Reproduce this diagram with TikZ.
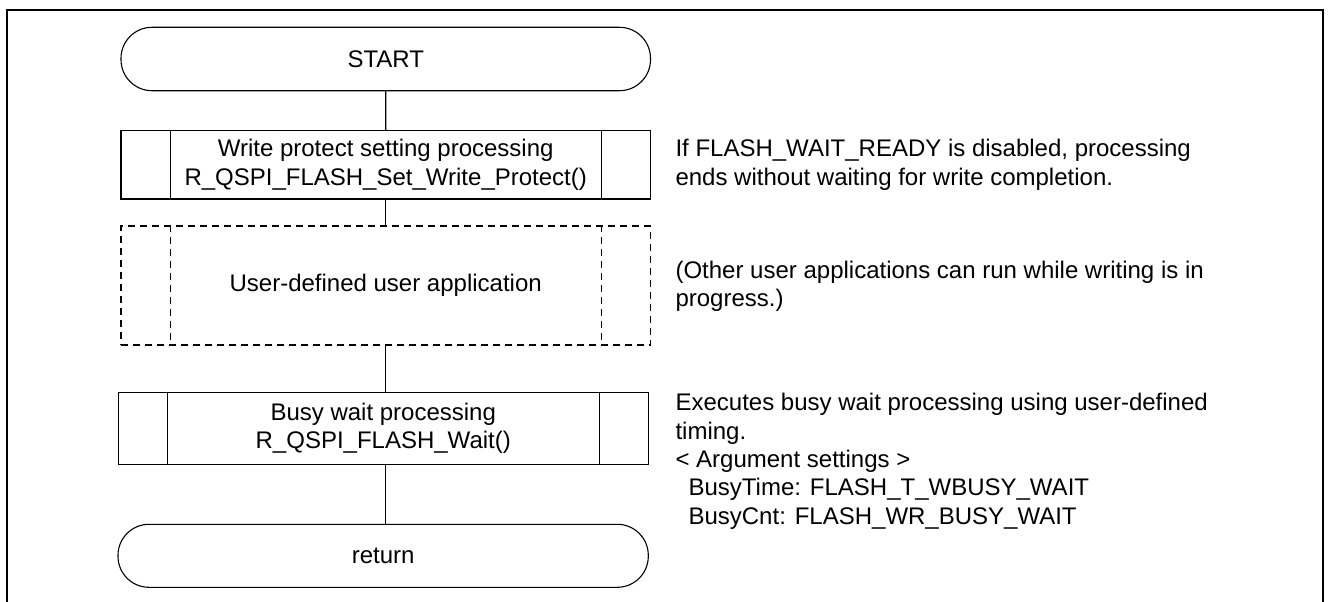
\documentclass[tikz,border=0pt]{standalone}
\usepackage{fontspec}
\setmainfont{Liberation Sans}
\begin{document}
\begin{tikzpicture}[x=1pt,y=-1pt,line width=1.1pt,
  every node/.style={font=\fontsize{24}{28.4}\selectfont, inner sep=0pt},
  term/.style={draw, rounded corners=31pt, minimum width=529.5pt, minimum height=63.4pt, align=center},
  proc/.style={draw, minimum width=529.5pt, minimum height=68.3pt, align=center},
  userbox/.style={draw, dash pattern=on 7pt off 5pt, minimum width=529.5pt, minimum height=119pt, align=center},
  note/.style={align=left, anchor=base west},
  frame/.style={line width=2pt}]
\useasboundingbox (0,0) rectangle (1328,602);
% outer frame (open at the bottom)
\draw[frame] (6.7,602) -- (6.7,10) -- (1322.7,10) -- (1322.7,602);

\node[term] (start) at (385.75,59) {START};
\node[proc] (wp) at (385.7,164.85) {Write protect setting processing\\R\_QSPI\_FLASH\_Set\_Write\_Protect()};
\draw ([xshift=49.7pt]wp.north west) -- ([xshift=49.7pt]wp.south west);
\draw ([xshift=-49.7pt]wp.north east) -- ([xshift=-49.7pt]wp.south east);

\node[userbox] (ua) at (385.7,285.5) {User-defined user application};
\draw[dash pattern=on 7pt off 5pt] ([xshift=49.7pt]ua.north west) -- ([xshift=49.7pt]ua.south west);
\draw[dash pattern=on 7pt off 5pt] ([xshift=-49.7pt]ua.north east) -- ([xshift=-49.7pt]ua.south east);

\node[proc, minimum height=71.6pt, minimum width=529.9pt] (busy) at (383.25,428.5) {Busy wait processing\\R\_QSPI\_FLASH\_Wait()};
\draw ([xshift=50pt]busy.north west) -- ([xshift=50pt]busy.south west);
\draw ([xshift=-49.5pt]busy.north east) -- ([xshift=-49.5pt]busy.south east);

\node[term, minimum width=530.3pt, minimum height=63pt] (ret) at (383.15,555.8) {return};

% connectors
\draw (start.south) -- (wp.north);
\draw (wp.south) -- (ua.north);
\draw (ua.south) -- (ua.south |- busy.north);
\draw (ua.south |- busy.south) -- (ua.south |- ret.north);

% notes (base anchor = baseline of the last line)
\node[note] (n1) at (675,185.1) {If FLASH\_WAIT\_READY is disabled, processing\\ends without waiting for write completion.};
\node[note] (n2) at (675,306.4) {(Other user applications can run while writing is in\\progress.)};
\node[note] (n3) at (675,524.3) {Executes busy wait processing using user-defined\\timing.\\\textless{} Argument settings \textgreater\\\hspace*{13pt}BusyTime: FLASH\_T\_WBUSY\_WAIT\\\hspace*{13pt}BusyCnt: FLASH\_WR\_BUSY\_WAIT};
\end{tikzpicture}
\end{document}
